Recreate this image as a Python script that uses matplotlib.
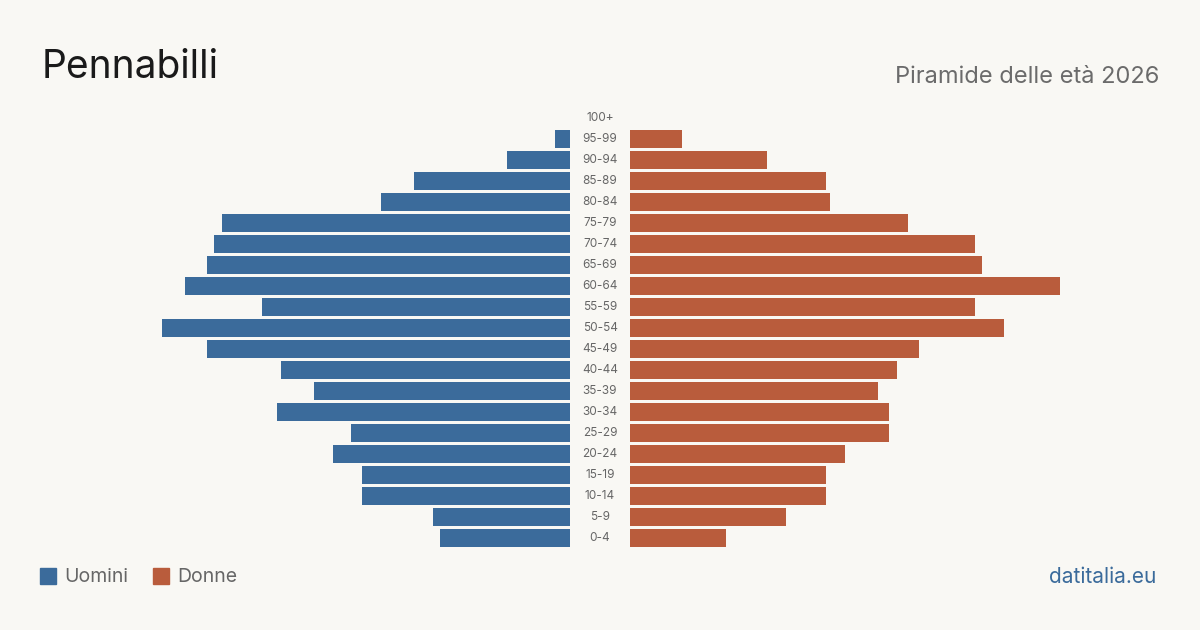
import matplotlib.pyplot as plt
from matplotlib.patches import Rectangle
from matplotlib.transforms import blended_transform_factory

plt.rcParams['font.family'] = ['Inter', 'DejaVu Sans']

# age classes from youngest to oldest
age_groups = ["0-4", "5-9", "10-14", "15-19", "20-24", "25-29", "30-34", "35-39",
              "40-44", "45-49", "50-54", "55-59", "60-64", "65-69", "70-74",
              "75-79", "80-84", "85-89", "90-94", "95-99", "100+"]
men = [35, 37, 56, 56, 64, 59, 79, 69, 78, 98, 110, 83, 104, 98, 96, 94, 51, 42, 17, 4, 0]
women = [26, 42, 53, 53, 58, 70, 70, 67, 72, 78, 101, 93, 116, 95, 93, 75, 54, 53, 37, 14, 0]

bg = "#f9f8f4"
blue = "#3b6b9b"
orange = "#b95c3c"

W, H = 1200, 630
fig = plt.figure(figsize=(12, 6.3), dpi=100, facecolor=bg)

# both halves share the same scale
xmax = 143
bottom = (H - 548.5) / H
height = 441 / H
ax_l = fig.add_axes([40 / W, bottom, 530 / W, height])
ax_r = fig.add_axes([630 / W, bottom, 530 / W, height])

y = list(range(len(age_groups)))
ax_l.barh(y, men, height=0.81, color=blue)
ax_r.barh(y, women, height=0.81, color=orange)

ax_l.set_xlim(xmax, 0)
ax_r.set_xlim(0, xmax)
for ax in (ax_l, ax_r):
    ax.set_ylim(-0.5, len(age_groups) - 0.5)
    ax.set_facecolor("none")
    ax.axis("off")

# age labels in the middle gap
tr = blended_transform_factory(fig.transFigure, ax_l.transData)
for i, lab in enumerate(age_groups):
    ax_l.text(0.5, i, lab, transform=tr, ha="center", va="center",
              fontsize=8.5, color="#666666")

fig.text(42 / W, 1 - 68 / H, "Pennabilli", fontsize=28, color="#1a1a1a",
         ha="left", va="center")
fig.text(1159 / W, 1 - 77 / H, "Piramide delle età 2026", fontsize=17,
         color="#6b6b6b", ha="right", va="center")
fig.text(1156 / W, 1 - 577 / H, "datitalia.eu", fontsize=15,
         color=blue, ha="right", va="center")

# legend
for x0, col, lab in [(40, blue, "Uomini"), (153, orange, "Donne")]:
    fig.patches.append(Rectangle((x0 / W, 1 - 584 / H), 16 / W, 16 / H,
                                 transform=fig.transFigure, color=col))
    fig.text((x0 + 24) / W, 1 - 577 / H, lab, fontsize=14, color="#666666",
             ha="left", va="center")

fig.savefig("out.png", dpi=100, facecolor=bg)
